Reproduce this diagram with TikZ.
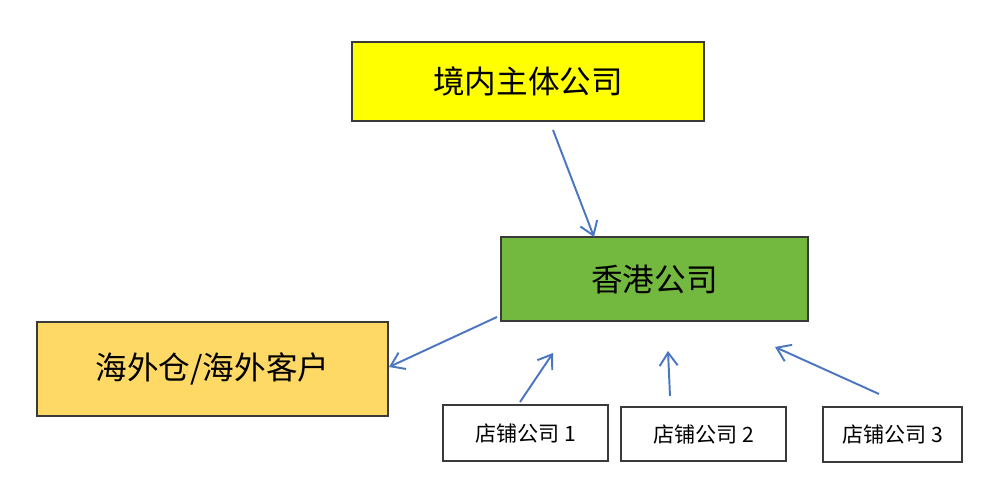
\documentclass[tikz,border=0pt]{standalone}
\usepackage{fontspec}
\newfontfamily\cjk{Noto Sans CJK SC}
\usetikzlibrary{arrows.meta}
\definecolor{boxyellow}{HTML}{FFFF00}
\definecolor{boxgreen}{HTML}{74B93F}
\definecolor{boxorange}{HTML}{FFD966}
\definecolor{arrblue}{HTML}{4A75C0}
\definecolor{edge}{HTML}{3A3A3A}
\tikzset{
	bigbox/.style={draw=edge, line width=0.7pt, inner sep=0pt, outer sep=0pt, font=\cjk\fontsize{18}{20}\selectfont},
	shopbox/.style={draw=edge, line width=0.7pt, fill=white, inner sep=0pt, outer sep=0pt, font=\cjk\fontsize{12}{14}\selectfont},
	arr/.style={arrblue, line width=1.1pt, -{Straight Barb[length=2.6mm,width=3.6mm,line width=1.1pt]}}
}
\begin{document}
\begin{tikzpicture}[x=0.02cm,y=-0.02cm]
	\useasboundingbox (0,0) rectangle (998,486);
	\node[bigbox, fill=boxyellow, minimum width=7.04cm, minimum height=1.58cm] (zhuti) at (528,81.5) {境内主体公司};
	\node[bigbox, fill=boxgreen, minimum width=6.14cm, minimum height=1.68cm] (xianggang) at (654.5,279) {香港公司};
	\node[bigbox, fill=boxorange, minimum width=7.02cm, minimum height=1.88cm] (haiwai) at (212.5,369) {海外仓/海外客户};
	\node[shopbox, minimum width=3.3cm, minimum height=1.12cm] (dianpu1) at (525.5,433) {店铺公司 1};
	\node[shopbox, minimum width=3.3cm, minimum height=1.08cm] (dianpu2) at (703.5,434) {店铺公司 2};
	\node[shopbox, minimum width=2.78cm, minimum height=1.1cm] (dianpu3) at (892.5,434.5) {店铺公司 3};
	\coordinate (a1) at (553,130);
	\coordinate (b1) at (594,237);
	\coordinate (a2) at (497,317);
	\coordinate (b2) at (389,367);
	\coordinate (a3) at (520,402);
	\coordinate (b3) at (553,353);
	\coordinate (a4) at (670,396);
	\coordinate (b4) at (668,351);
	\coordinate (a5) at (879,394);
	\coordinate (b5) at (775,347);
	\draw[arr] (a1)--(b1);
	\draw[arr] (a2)--(b2);
	\draw[arr] (a3)--(b3);
	\draw[arr] (a4)--(b4);
	\draw[arr] (a5)--(b5);
\end{tikzpicture}
\end{document}
